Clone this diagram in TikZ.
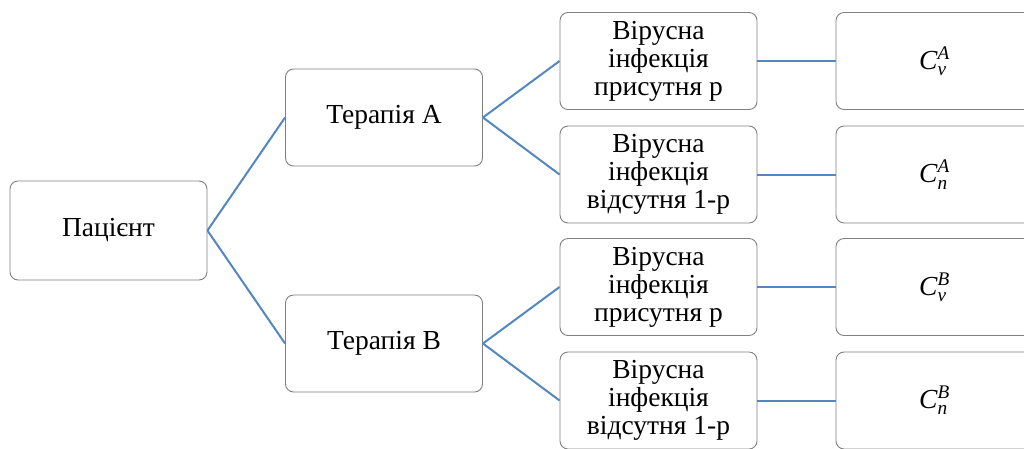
\documentclass[tikz,border=0pt]{standalone}
\usepackage{amsmath}
\usepackage{fontspec}
\setmainfont{Liberation Serif}
\definecolor{boxgray}{RGB}{128,128,128}
\definecolor{linkblue}{RGB}{84,134,192}
\newcommand{\costlabel}[2]{$\text{\itshape C}^{\text{\itshape #2}}_{\text{\itshape #1}}$}
\begin{document}
\begin{tikzpicture}[x=1pt,y=-1pt,
  box/.style={draw=boxgray,line width=0.9pt,rounded corners=8pt,minimum width=197pt,minimum height=97pt,inner sep=0pt,align=center,font=\fontsize{27.5}{28}\selectfont},
  link/.style={draw=linkblue,line width=2pt}]
\useasboundingbox (0,0) rectangle (1024,448);
\clip (0,0) rectangle (1024,448);
\node[box,minimum height=99pt] (Pat) at (108.5,230.5) {Пацієнт};
\node[box] (TherA) at (384,117.5) {Терапія A};
\node[box] (TherB) at (384,343.5) {Терапія B};
\node[box] (InfA) at (658.5,61) {Вірусна\\інфекція\\присутня р};
\node[box] (NoInfA) at (658.5,174.5) {Вірусна\\інфекція\\відсутня 1-р};
\node[box] (InfB) at (658.5,287) {Вірусна\\інфекція\\присутня р};
\node[box] (NoInfB) at (658.5,400.5) {Вірусна\\інфекція\\відсутня 1-р};
\node[box] (CvA) at (934.5,61) {\costlabel{ν}{A}};
\node[box] (CnA) at (934.5,174.5) {\costlabel{n}{A}};
\node[box] (CvB) at (934.5,287) {\costlabel{ν}{B}};
\node[box] (CnB) at (934.5,400.5) {\costlabel{n}{B}};

\draw[link] (Pat.east) -- (TherA.west);
\draw[link] (Pat.east) -- (TherB.west);
\draw[link] (TherA.east) -- (InfA.west);
\draw[link] (TherA.east) -- (NoInfA.west);
\draw[link] (TherB.east) -- (InfB.west);
\draw[link] (TherB.east) -- (NoInfB.west);
\draw[link] (InfA) -- (CvA);
\draw[link] (NoInfA) -- (CnA);
\draw[link] (InfB) -- (CvB);
\draw[link] (NoInfB) -- (CnB);
\end{tikzpicture}
\end{document}
